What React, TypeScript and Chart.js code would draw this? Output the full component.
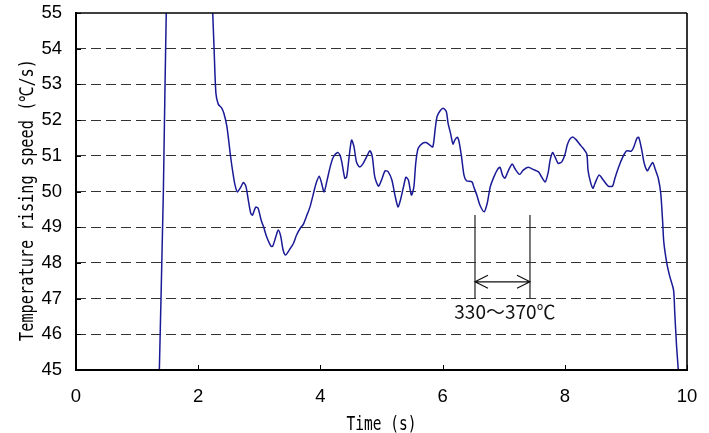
import React, { useEffect, useRef } from "react";
import { Chart, registerables } from "chart.js";

Chart.register(...registerables);

// Time (s)
const timeS: number[] = [
  1.36, 1.43, 1.48, 1.53, 1.85, 2.2,
  2.23, 2.26, 2.29, 2.33, 2.38, 2.42, 2.47, 2.53, 2.57, 2.6, 2.64, 2.69, 2.74, 2.78, 2.82,
  2.86, 2.89, 2.94, 2.98, 3.03, 3.07, 3.12, 3.19, 3.22, 3.27, 3.31, 3.35, 3.39, 3.43, 3.49,
  3.56, 3.61, 3.67, 3.72, 3.78, 3.83, 3.88, 3.93, 3.98, 4.02, 4.06, 4.11, 4.16, 4.21, 4.28,
  4.32, 4.35, 4.4, 4.43, 4.47, 4.51, 4.55, 4.59, 4.64, 4.7, 4.77, 4.81, 4.85, 4.89, 4.95,
  5.0, 5.06, 5.11, 5.17, 5.22, 5.27, 5.31, 5.36, 5.4, 5.44, 5.49, 5.53, 5.56, 5.6, 5.67,
  5.73, 5.79, 5.84, 5.88, 5.91, 5.96, 6.01, 6.06, 6.09, 6.13, 6.17, 6.2, 6.24, 6.27, 6.31,
  6.35, 6.39, 6.48, 6.51, 6.56, 6.61, 6.68, 6.73, 6.78, 6.84, 6.9, 6.94, 6.98, 7.02, 7.08,
  7.14, 7.18, 7.26, 7.32, 7.4, 7.48, 7.57, 7.62, 7.68, 7.73, 7.76, 7.8, 7.84, 7.89, 7.95,
  8.0, 8.04, 8.08, 8.13, 8.18, 8.24, 8.3, 8.36, 8.38, 8.42, 8.46, 8.49, 8.56, 8.63, 8.71,
  8.78, 8.82, 8.88, 8.95, 9.01, 9.09, 9.13, 9.18, 9.21, 9.26, 9.3, 9.35, 9.39, 9.44, 9.48,
  9.53, 9.57, 9.6, 9.62, 9.67, 9.72, 9.78, 9.8, 9.83, 9.86, 9.87,
];

// Temperature rising speed (°C/s)
const speed: number[] = [
  44.7, 50.0, 55.3, 57.5, 60.0, 57.5,
  55.4, 54.0, 52.75, 52.44, 52.35, 52.19, 51.82, 50.98, 50.5, 50.2, 49.99, 50.1, 50.25, 50.15, 49.76,
  49.39, 49.34, 49.56, 49.53, 49.2, 49.01, 48.73, 48.47, 48.47, 48.73, 48.92, 48.75, 48.36, 48.22, 48.36,
  48.55, 48.78, 48.97, 49.08, 49.34, 49.57, 49.9, 50.23, 50.43, 50.23, 49.99, 50.32, 50.69, 50.96, 51.09,
  51.02, 50.83, 50.37, 50.41, 50.97, 51.44, 51.25, 50.83, 50.69, 50.79, 51.02, 51.14, 50.97, 50.41, 50.15,
  50.32, 50.58, 50.55, 50.32, 49.9, 49.57, 49.76, 50.13, 50.4, 50.32, 49.9, 50.13, 50.79, 51.21, 51.35,
  51.37, 51.3, 51.25, 51.77, 52.1, 52.26, 52.33, 52.24, 51.91, 51.63, 51.33, 51.44, 51.52, 51.39, 50.97,
  50.46, 50.3, 50.27, 50.13, 49.9, 49.62, 49.43, 49.67, 50.13, 50.41, 50.62, 50.68, 50.46, 50.37, 50.6,
  50.77, 50.65, 50.48, 50.6, 50.68, 50.62, 50.55, 50.41, 50.27, 50.55, 50.88, 51.09, 50.97, 50.79, 50.83,
  51.02, 51.3, 51.46, 51.53, 51.46, 51.33, 51.21, 51.05, 50.6, 50.27, 50.09, 50.21, 50.46, 50.32, 50.15,
  50.15, 50.37, 50.68, 50.97, 51.14, 51.13, 51.25, 51.49, 51.52, 51.16, 50.79, 50.58, 50.69, 50.81, 50.62,
  50.37, 49.95, 49.2, 48.59, 47.99, 47.61, 47.24, 46.59, 45.65, 44.95, 44.7,
];

const xTicks: number[] = [0, 2, 4, 6, 8, 10];
const yTicks: number[] = [45, 46, 47, 48, 49, 50, 51, 52, 53, 54, 55];

const xTitle = "Time (s)";
const yTitle = "Temperature rising speed (℃/s)";

// Annotation: span bracket (time range) and its label
const bracketT: number[] = [6.53, 7.43];
const bracketV: number[] = [49.34, 47.01];
const arrowV = 47.47;
const bracketLabel = "330～370℃";
const bracketLabelPos: number[] = [7.02, 46.63];

const overlayPlugin = {
  id: "overlay",
  afterDraw(chart: any) {
    const { ctx, chartArea: a, scales } = chart;
    const xs = scales.x;
    const ys = scales.y;
    ctx.save();

    // inward tick marks
    ctx.strokeStyle = "#000";
    ctx.lineWidth = 1;
    xs.ticks.forEach((t: any) => {
      const px = Math.round(xs.getPixelForValue(t.value)) + 0.5;
      ctx.beginPath();
      ctx.moveTo(px, a.bottom);
      ctx.lineTo(px, a.bottom - 5);
      ctx.stroke();
    });
    ys.ticks.forEach((t: any) => {
      const py = Math.round(ys.getPixelForValue(t.value)) + 0.5;
      ctx.beginPath();
      ctx.moveTo(a.left, py);
      ctx.lineTo(a.left + 5, py);
      ctx.stroke();
    });

    // frame
    ctx.strokeStyle = "#000";
    ctx.lineWidth = 1.3;
    ctx.beginPath();
    ctx.moveTo(a.left, a.top);
    ctx.lineTo(a.right, a.top);
    ctx.stroke();
    ctx.lineWidth = 1.6;
    ctx.beginPath();
    ctx.moveTo(a.right, a.top);
    ctx.lineTo(a.right, a.bottom);
    ctx.stroke();
    ctx.lineWidth = 2;
    ctx.beginPath();
    ctx.moveTo(a.left, a.top - 1);
    ctx.lineTo(a.left, a.bottom);
    ctx.lineTo(a.right + 1, a.bottom);
    ctx.stroke();

    // bracket annotation
    const x1 = xs.getPixelForValue(bracketT[0]);
    const x2 = xs.getPixelForValue(bracketT[1]);
    const yTop = ys.getPixelForValue(bracketV[0]);
    const yBot = ys.getPixelForValue(bracketV[1]);
    const ya = ys.getPixelForValue(arrowV);
    ctx.strokeStyle = "#333";
    ctx.lineWidth = 1.3;
    ctx.beginPath();
    ctx.moveTo(x1, yTop);
    ctx.lineTo(x1, yBot);
    ctx.moveTo(x2, yTop);
    ctx.lineTo(x2, yBot);
    ctx.stroke();
    ctx.strokeStyle = "#111";
    ctx.lineWidth = 1.2;
    ctx.beginPath();
    ctx.moveTo(x1, ya);
    ctx.lineTo(x2, ya);
    ctx.moveTo(x1 + 13, ya - 6.5);
    ctx.lineTo(x1, ya);
    ctx.lineTo(x1 + 13, ya + 6.5);
    ctx.moveTo(x2 - 13, ya - 6.5);
    ctx.lineTo(x2, ya);
    ctx.lineTo(x2 - 13, ya + 6.5);
    ctx.stroke();

    ctx.fillStyle = "#111";
    ctx.font = '19px "Liberation Sans Narrow", "Noto Sans CJK JP", sans-serif';
    ctx.textAlign = "center";
    ctx.textBaseline = "middle";
    ctx.fillText(
      bracketLabel,
      xs.getPixelForValue(bracketLabelPos[0]),
      ys.getPixelForValue(bracketLabelPos[1])
    );

    // axis titles (tall monospace look)
    ctx.fillStyle = "#000";
    ctx.textAlign = "center";
    ctx.textBaseline = "alphabetic";
    ctx.save();
    ctx.translate((a.left + a.right) / 2, a.bottom + 60);
    ctx.scale(1, 1.35);
    ctx.font = '14.5px "DejaVu Sans Mono", monospace';
    ctx.fillText(xTitle, 0, 0);
    ctx.restore();

    ctx.save();
    ctx.translate(a.left - 43, (a.top + a.bottom) / 2 + 8.5);
    ctx.rotate(-Math.PI / 2);
    ctx.scale(1, 1.25);
    ctx.font = '15.3px "DejaVu Sans Mono", monospace';
    ctx.fillText(yTitle, 0, 0);
    ctx.restore();

    ctx.restore();
  },
};

export default function App() {
  const canvasRef = useRef<HTMLCanvasElement | null>(null);

  useEffect(() => {
    const canvas = canvasRef.current;
    if (!canvas) return;
    const points = timeS.map((t, i) => ({ x: t, y: speed[i] }));
    const tickFont = { family: '"Liberation Sans Narrow", "Liberation Sans", sans-serif', size: 18.5 };
    const chart = new Chart(canvas, {
      type: "line",
      data: {
        datasets: [
          {
            data: points,
            borderColor: "#1a1a96",
            borderWidth: 1.5,
            pointRadius: 0,
            tension: 0.25,
            fill: false,
          },
        ],
      },
      options: {
        animation: false,
        responsive: false,
        maintainAspectRatio: false,
        events: [],
        layout: { padding: { top: 13, right: 22, left: 0, bottom: 0 } },
        plugins: {
          legend: { display: false },
          tooltip: { enabled: false },
          title: { display: false },
        },
        scales: {
          x: {
            type: "linear",
            min: 0,
            max: 10,
            afterBuildTicks: (s: any) => {
              s.ticks = xTicks.map((v) => ({ value: v }));
            },
            afterFit: (s: any) => {
              s.height = 63;
              s.paddingLeft = 0;
              s.paddingRight = 0;
            },
            grid: { display: false, drawTicks: false },
            border: { display: false },
            ticks: {
              color: "#000",
              font: tickFont,
              padding: 16,
              maxRotation: 0,
              autoSkip: false,
            },
            title: { display: false },
          },
          y: {
            type: "linear",
            min: 45,
            max: 55,
            afterBuildTicks: (s: any) => {
              s.ticks = yTicks.map((v) => ({ value: v }));
            },
            afterFit: (s: any) => {
              s.width = 76;
              s.paddingTop = 0;
              s.paddingBottom = 0;
            },
            grid: {
              drawTicks: false,
              lineWidth: 1,
              color: (c: any) =>
                c.tick && (c.tick.value === 45 || c.tick.value === 55) ? "rgba(0,0,0,0)" : "#333",
            },
            border: { display: false, dash: [10, 5] },
            ticks: {
              color: "#000",
              font: tickFont,
              padding: 14,
              autoSkip: false,
            },
            title: { display: false },
          },
        },
      },
      plugins: [overlayPlugin],
    });
    return () => chart.destroy();
  }, []);

  return (
    <div style={{ position: "fixed", left: 0, top: 0, width: 709, height: 433, background: "#fff" }}>
      <canvas ref={canvasRef} width={709} height={433} style={{ display: "block" }} />
    </div>
  );
}
